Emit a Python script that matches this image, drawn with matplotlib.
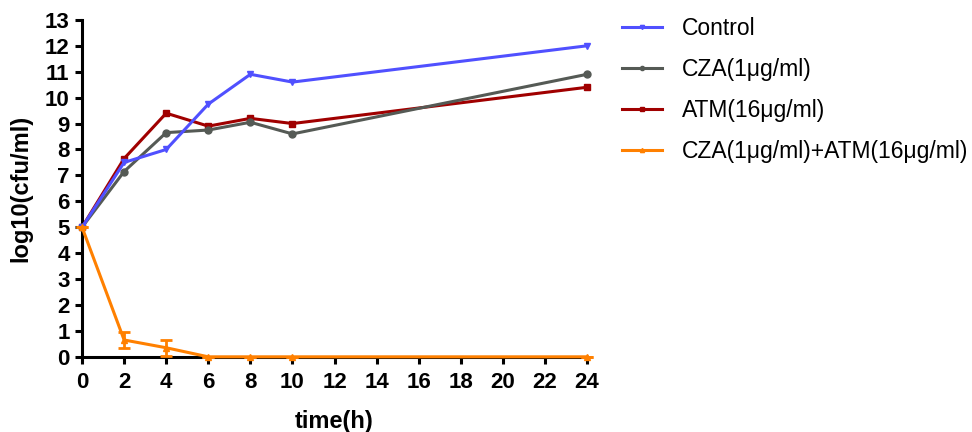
import matplotlib
matplotlib.use("Agg")
import matplotlib.pyplot as plt
from matplotlib.lines import Line2D
import numpy as np

plt.rcParams['font.family'] = ['Liberation Sans', 'DejaVu Sans']

# data
time_h = [0, 2, 4, 6, 8, 10, 24]
control = [5.0, 7.5, 8.0, 9.75, 10.9, 10.6, 12.0]
cza = [5.0, 7.15, 8.65, 8.75, 9.05, 8.6, 10.9]
atm = [5.0, 7.65, 9.4, 8.9, 9.2, 9.0, 10.4]
combo = [5.0, 0.65, 0.35, 0.0, 0.0, 0.0, 0.0]
combo_err = [0.0, 0.3, 0.3, 0.0, 0.0, 0.0, 0.0]

labels = ["Control", "CZA(1μg/ml)", "ATM(16μg/ml)", "CZA(1μg/ml)+ATM(16μg/ml)"]
colors = ['#5050ff', '#555a55', '#a00000', '#ff8000']
markers = ['v', 'o', 's', '^']

fig = plt.figure(figsize=(9.72, 4.32), dpi=100)
ax = fig.add_axes([0.0844, 0.174, 0.5196, 0.78])

lw = 2.2
ax.plot(time_h, control, color=colors[0], lw=lw, marker=markers[0], ms=5, clip_on=False, zorder=5)
ax.plot(time_h, cza, color=colors[1], lw=lw, marker=markers[1], ms=5, clip_on=False, zorder=4)
ax.plot(time_h, atm, color=colors[2], lw=lw, marker=markers[2], ms=5, clip_on=False, zorder=3)
ax.errorbar(time_h, combo, yerr=combo_err, color=colors[3], lw=lw, marker=markers[3], ms=5,
            capsize=4, capthick=2, elinewidth=2, clip_on=False, zorder=6)

ax.set_xlim(0, 24)
ax.set_ylim(0, 13)
ax.set_xticks(np.arange(0, 25, 2))
ax.set_yticks(np.arange(0, 14, 1))

for s in ['top', 'right']:
    ax.spines[s].set_visible(False)
for s in ['left', 'bottom']:
    ax.spines[s].set_linewidth(2.2)
ax.tick_params(direction='out', length=5, width=2.2, labelsize=16, pad=4)
ax.tick_params(axis='x', pad=6)
for t in ax.get_xticklabels() + ax.get_yticklabels():
    t.set_fontweight('bold')

ax.set_xlabel("time(h)", fontsize=17, fontweight='bold', labelpad=12)
ax.set_ylabel("log10(cfu/ml)", fontsize=17, fontweight='bold', labelpad=9)

# legend with plain line handles
handles = [Line2D([], [], color=c, lw=lw, marker=m, ms=3) for c, m in zip(colors, markers)]
fig.legend(handles, labels, loc='upper left', bbox_to_anchor=(0.619, 1.008),
           frameon=False, fontsize=16.5, labelspacing=0.78, handlelength=1.75,
           handletextpad=0.87)

fig.savefig("out.png", dpi=100)
